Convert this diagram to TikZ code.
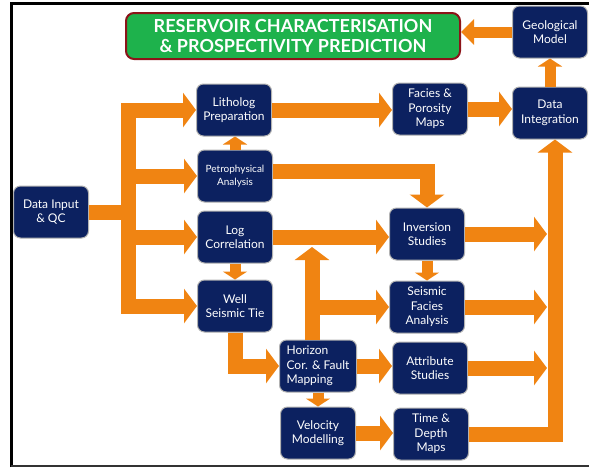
\documentclass[tikz,border=0pt]{standalone}
\usepackage{fontspec}
\setmainfont{Lato}
\usetikzlibrary{arrows.meta}
\definecolor{navy}{RGB}{12,33,96}
\definecolor{arrorange}{RGB}{240,132,18}
\definecolor{titlegreen}{RGB}{30,178,76}
\definecolor{titlered}{RGB}{140,20,25}

\begin{document}
\begin{tikzpicture}[x=1pt, y=-1pt]
    \tikzstyle{block} = [rectangle, draw=black!30, line width=1pt, fill=navy, text=white, align=center, rounded corners=7pt, minimum width=75pt, minimum height=52pt, inner sep=1pt, font=\fontsize{12}{14.5}\selectfont]
    \tikzstyle{line} = [draw=arrorange, line width=15pt, -{Triangle[length=13pt,width=34pt]}]
    \tikzstyle{short} = [draw=arrorange, line width=11pt, -{Triangle[length=8pt,width=24pt]}]
    \tikzstyle{bar} = [draw=arrorange, line width=15pt]

    \useasboundingbox (0,0) rectangle (589,467);
    \fill[white] (0,0) rectangle (589,467);
    \draw[line width=3pt] (11,467) -- (11,3.5) -- (589,3.5);
    \draw[line width=2pt, black!80] (11,465.5) -- (589,465.5);

    \node [rectangle, draw=titlered, line width=2pt, fill=titlegreen, text=white, align=center, rounded corners=8pt, minimum width=334pt, minimum height=46pt, inner sep=1pt, font=\bfseries\fontsize{18}{19.5}\selectfont] (title) at (293,36) {RESERVOIR CHARACTERISATION\\\& PROSPECTIVITY PREDICTION};
    \node [block] (geo) at (550,32) {Geological\\Model};
    \node [block] (din) at (51,212) {Data Input\\\& QC};
    \node [block] (lith) at (234,110) {Litholog\\Preparation};
    \node [block, font=\fontsize{10}{13}\selectfont] (petro) at (235,176) {Petrophysical\\Analysis};
    \node [block] (logc) at (235,237) {Log\\Correlation};
    \node [block] (wst) at (235,306) {Well\\Seismic Tie};
    \node [block] (fpm) at (430,109) {Facies \&\\Porosity\\Maps};
    \node [block] (di) at (550,113) {Data\\Integration};
    \node [block] (inv) at (427,234) {Inversion\\Studies};
    \node [block] (sfa) at (427,307) {Seismic\\Facies\\Analysis};
    \node [block, align=left, minimum width=77pt] (hor) at (318,366) {Horizon\\Cor. \& Fault\\Mapping};
    \node [block] (att) at (430,368) {Attribute\\Studies};
    \node [block] (vel) at (318,433) {Velocity\\Modelling};
    \node [block] (tdm) at (431,434) {Time \&\\Depth\\Maps};

    \coordinate (ltrunk) at (128,212);
    \coordinate (uptip) at (312,247);
    \coordinate (rtrunk) at (555,435);

    % left side
    \path [bar] (din.east) -- (ltrunk);
    \path [line] (ltrunk) |- (lith);
    \path [line] (ltrunk) |- (wst);
    \path [line] (ltrunk |- petro) -- (petro);
    \path [line] (ltrunk |- logc) -- (logc);
    \path [short] (petro.north) -- (petro.north |- lith.south);
    \path [short] (logc) -- (wst);

    % middle
    \path [line] (lith.east) -- (lith.east -| fpm.west);
    \path [line] ([yshift=5pt]petro.east) -| (inv.north);
    \path [line] (logc.east) -- (logc.east -| inv.west);
    \path [line] (wst.south) |- (hor.west);
    \path [line] (hor.north -| uptip) -- (uptip);
    \path [line] (uptip |- sfa) -- (sfa);
    \path [line] (hor.east) -- (hor.east -| att.west);
    \path [short] (hor) -- (vel);
    \path [line] (vel.east) -- (vel.east -| tdm.west);
    \path [short] (inv) -- (sfa);

    % right side
    \path [line] (inv.east) -- ([xshift=-8pt]inv.east -| rtrunk);
    \path [line] (sfa.east) -- ([xshift=-8pt]sfa.east -| rtrunk);
    \path [line] (att.east) -- ([xshift=-8pt]att.east -| rtrunk);
    \path [line] (tdm.east) -| (rtrunk |- di.south);
    \path [line] (fpm.east) -- (fpm.east -| di.west);
    \path [short] (di.north) -- (di.north |- geo.south);
    \path [draw=arrorange, line width=11pt, -{Triangle[length=13pt,width=25pt]}] (geo.west) -- (geo.west -| title.east);
\end{tikzpicture}
\end{document}
